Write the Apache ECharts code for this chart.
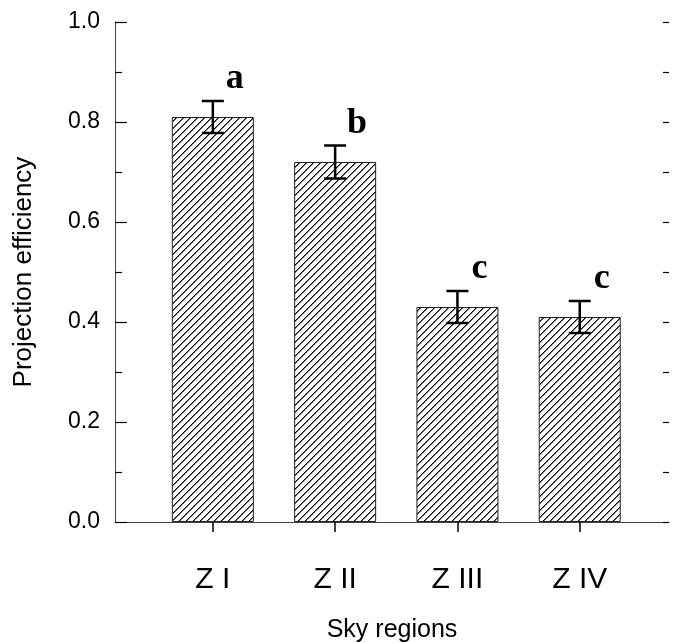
<!DOCTYPE html>
<html>
<head>
<meta charset="utf-8">
<script src="https://cdn.jsdelivr.net/npm/echarts@6/dist/echarts.min.js"></script>
<style>html,body{margin:0;padding:0;background:#fff}#c{width:677px;height:643px}</style>
</head>
<body>
<div id="c"></div>
<script>
const categories = ['Z I', 'Z II', 'Z III', 'Z IV'];
const efficiency = [0.81, 0.72, 0.43, 0.41];
const errors = [0.032, 0.033, 0.032, 0.032];
const letters = ['a', 'b', 'c', 'c'];

function hatch() {
  const s = 7;
  const c = document.createElement('canvas');
  c.width = s; c.height = s;
  const g = c.getContext('2d');
  g.fillStyle = '#fff'; g.fillRect(0, 0, s, s);
  for (let y = 0; y < s; y++) {
    g.fillStyle = '#000';
    g.fillRect((s - 1 - y + s) % s, y, 1, 1);
    g.fillStyle = '#777';
    g.fillRect((s - y) % s, y, 1, 1);
  }
  return c;
}

const chart = echarts.init(document.getElementById('c'));
const pos = categories.map((_, i) => i + 1);
const barData = pos.map((p, i) => [p, efficiency[i]]);
const errData = pos.map((p, i) => [p, efficiency[i], errors[i], i]);
const FONT = 'Liberation Sans, Arial, sans-serif';

chart.setOption({
  animation: false,
  backgroundColor: '#fff',
  grid: { left: 115, right: 8, top: 22, bottom: 121, containLabel: false, outerBoundsMode: 'none' },
  xAxis: {
    type: 'value', min: 0.2, max: 4.73,
    name: 'Sky regions', nameLocation: 'middle', nameGap: 96,
    nameTextStyle: { fontFamily: FONT, fontSize: 25, color: '#000' },
    axisLine: { show: true, lineStyle: { color: '#444', width: 1 } },
    axisTick: { show: true, customValues: pos, inside: false, length: 10, lineStyle: { color: '#000', width: 1.5 } },
    axisLabel: { customValues: pos, margin: 43, fontFamily: FONT, fontSize: 30, color: '#000',
      formatter: v => categories[Math.round(v) - 1] || '' },
    splitLine: { show: false }
  },
  yAxis: [{
    type: 'value', min: 0, max: 1, interval: 0.2,
    name: 'Projection efficiency', nameLocation: 'middle', nameGap: 78,
    nameTextStyle: { fontFamily: FONT, fontSize: 26, color: '#000' },
    axisLine: { show: true, lineStyle: { color: '#444', width: 1 } },
    axisTick: { show: true, inside: true, length: 12, lineStyle: { color: '#000', width: 1.2 } },
    minorTick: { show: true, splitNumber: 2, length: 7, lineStyle: { color: '#000', width: 1.2 } },
    axisLabel: { margin: 15, fontFamily: FONT, fontSize: 23, color: '#000', formatter: v => v.toFixed(1) },
    splitLine: { show: false }
  }, {
    type: 'value', min: 0, max: 1, interval: 0.1, position: 'right',
    axisLine: { show: false },
    axisTick: { show: true, inside: true, length: 6, lineStyle: { color: '#000', width: 1.2 } },
    axisLabel: { show: false },
    splitLine: { show: false }
  }],
  series: [{
    type: 'bar', data: barData, barWidth: 82,
    itemStyle: { color: { image: hatch(), repeat: 'repeat' }, borderColor: '#222', borderWidth: 1 }
  }, {
    type: 'custom', data: errData, z: 10,
    renderItem: (params, api) => {
      const x = api.value(0), y = api.value(1), e = api.value(2), i = api.value(3);
      const top = api.coord([x, y + e]);
      const bot = api.coord([x, y - e]);
      const hw = 11;
      const st = { stroke: '#000', lineWidth: 2.5 };
      return { type: 'group', children: [
        { type: 'line', shape: { x1: top[0], y1: top[1], x2: bot[0], y2: bot[1] }, style: st },
        { type: 'line', shape: { x1: top[0] - hw, y1: top[1], x2: top[0] + hw, y2: top[1] }, style: st },
        { type: 'line', shape: { x1: bot[0] - hw, y1: bot[1], x2: bot[0] + hw, y2: bot[1] }, style: st },
        { type: 'text', x: top[0] + 22, y: top[1] - 22,
          style: { text: letters[i], fill: '#000', font: 'bold 36px "Liberation Serif", "Times New Roman", serif',
            textAlign: 'center', textVerticalAlign: 'middle' } }
      ]};
    }
  }]
});
</script>
</body>
</html>
